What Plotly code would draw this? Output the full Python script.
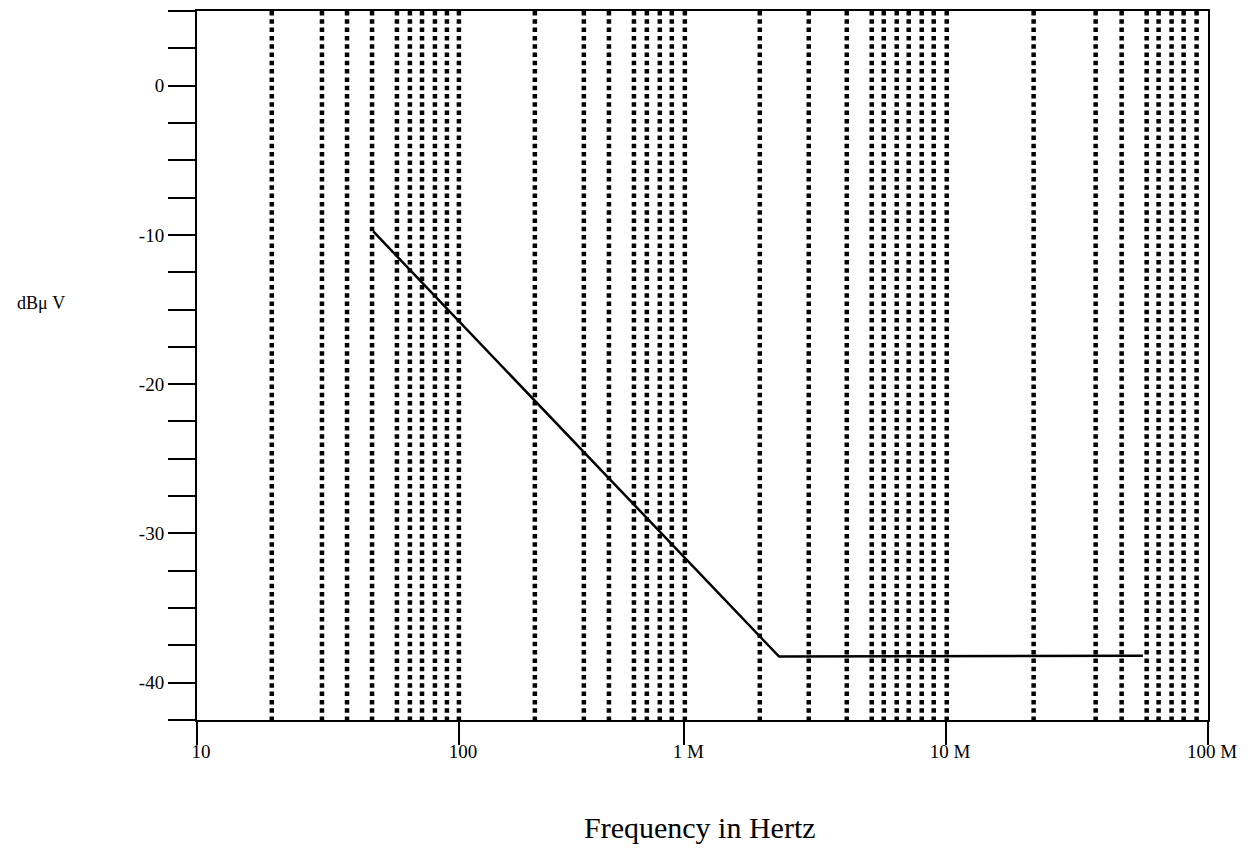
import plotly.graph_objects as go

# ---- data ----
# x axis tick positions (axis units of the drawing) and their labels
x_tick_vals = [10, 100, 725, 7250, 72500]
x_tick_text = ["10", "100", "1 M", "10 M", "100 M"]

# y axis ticks every 2.5 dB, labelled every 10 dB
y_tick_vals = [-42.5, -40, -37.5, -35, -32.5, -30, -27.5, -25, -22.5, -20,
               -17.5, -15, -12.5, -10, -7.5, -5, -2.5, 0, 2.5, 5]
y_tick_text = ["", "-40", "", "", "", "-30", "", "", "", "-20",
               "", "", "", "-10", "", "", "", "0", "", ""]

# vertical dotted reference lines (x positions)
grid_x = [19.3, 30.0, 37.4, 46.6, 58.0, 65.0, 72.3, 81.0, 90.0, 100,
          195, 300, 374, 466, 522, 585, 650, 729,
          1409, 2167, 3027, 3770, 4190, 4697, 5220, 5852, 6501, 7290,
          15650, 27000, 33930, 42270, 46960, 52640, 58520, 65580]

# limit line
limit_x = [47.1, 1669, 40910]
limit_y = [-9.77, -38.25, -38.2]

y_range = [-42.5, 5]

# ---- figure ----
gx, gy = [], []
for v in grid_x:
    gx += [v, v, None]
    gy += [y_range[1], y_range[0], None]

fig = go.Figure()
fig.add_trace(go.Scatter(
    x=gx, y=gy, mode="lines", hoverinfo="skip", showlegend=False,
    line=dict(color="black", width=4.5, dash="4.5px,3.8px"),
))
fig.add_trace(go.Scatter(
    x=limit_x, y=limit_y, mode="lines", showlegend=False,
    line=dict(color="black", width=2.5),
))

serif = "Liberation Serif, Times New Roman, serif"

fig.update_layout(
    width=1238, height=839,
    margin=dict(l=189, r=38, t=1, b=127),
    paper_bgcolor="white", plot_bgcolor="white",
    font=dict(family=serif, color="black", size=19),
    xaxis=dict(
        type="log", range=[1, 4.8603],
        tickmode="array", tickvals=x_tick_vals, ticktext=x_tick_text,
        ticks="outside", ticklen=23, tickwidth=2, tickcolor="black",
        ticklabelstandoff=-10, ticklabelshift=4,
        showline=True, linewidth=2, linecolor="black", mirror=True,
        showgrid=False, zeroline=False,
        tickfont=dict(family=serif, size=19, color="black"),
    ),
    yaxis=dict(
        range=y_range,
        tickmode="array", tickvals=y_tick_vals, ticktext=y_tick_text,
        ticks="outside", ticklen=27, tickwidth=2, tickcolor="black",
        showline=True, linewidth=2, linecolor="black", mirror=True,
        showgrid=False, zeroline=False,
        tickfont=dict(family=serif, size=19, color="black"),
    ),
    annotations=[
        dict(text="dBμ V", xref="paper", yref="paper",
             x=-0.154, y=0.588, xanchor="center", yanchor="middle",
             showarrow=False, font=dict(family=serif, size=18, color="black")),
        dict(text="Frequency in Hertz", xref="paper", yref="paper",
             x=0.4975, y=-0.152, xanchor="center", yanchor="middle",
             showarrow=False, font=dict(family=serif, size=30, color="black")),
    ],
)

fig.write_html("out.html")
